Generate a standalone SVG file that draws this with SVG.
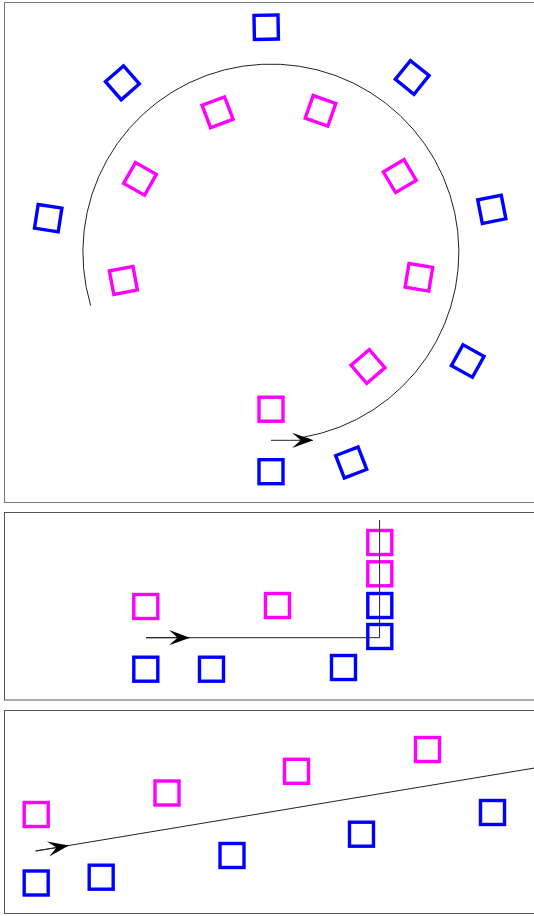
<svg xmlns="http://www.w3.org/2000/svg" width="534" height="916" viewBox="0 0 534 916">
<style>
  .frame { fill: none; stroke: #555; stroke-width: 1; }
  .frame1 { fill: none; stroke: #777; stroke-width: 1; }
  .b use { fill: none; stroke: #0000ff; stroke-width: 3.4; }
  .m use { fill: none; stroke: #ff00ff; stroke-width: 3.4; }
  .conn { fill: none; stroke: #222; stroke-width: 1; }
</style>
<defs>
  <marker id="arr" viewBox="-22 -9 24 18" refX="0" refY="0" markerWidth="24" markerHeight="18" markerUnits="userSpaceOnUse" orient="auto">
    <path d="M0.5,0 L-20.5,-7.6 L-12,0 L-20.5,7.6 Z" fill="#000"/>
  </marker>
  <rect id="sq" x="-12" y="-12" width="24" height="24"/>
</defs>
<rect width="534" height="916" fill="#fff"/>
<g id="frames">
  <rect class="frame1" x="4.5" y="2.5" width="540" height="500"/>
  <rect class="frame" x="4.5" y="512.5" width="540" height="187.5"/>
  <rect class="frame" x="4.5" y="710.5" width="540" height="203"/>
</g>
<!-- Panel 1: circular layout -->
<g id="p1-b1" class="b"><use href="#sq" transform="translate(467.7,361.0) rotate(28.9)"/></g>
<g id="p1-b2" class="b"><use href="#sq" transform="translate(351.2,462.5) rotate(68.9)"/></g>
<g id="p1-b3" class="b"><use href="#sq" transform="translate(48.2,218.2) rotate(188.9)"/></g>
<g id="p1-b4" class="b"><use href="#sq" transform="translate(122.4,82.8) rotate(228.9)"/></g>
<g id="p1-b5" class="b"><use href="#sq" transform="translate(266.2,27.2) rotate(268.9)"/></g>
<g id="p1-b6" class="b"><use href="#sq" transform="translate(412.2,77.4) rotate(308.9)"/></g>
<g id="p1-b7" class="b"><use href="#sq" transform="translate(491.8,209.3) rotate(348.9)"/></g>
<g id="p1-b8" class="b"><use href="#sq" transform="translate(271,471.7)"/></g>
<g id="p1-m1" class="m"><use href="#sq" transform="translate(418.9,277.3) rotate(9.4)"/></g>
<g id="p1-m2" class="m"><use href="#sq" transform="translate(368.0,366.5) rotate(49.4)"/></g>
<g id="p1-m3" class="m"><use href="#sq" transform="translate(123.4,280.4) rotate(169.4)"/></g>
<g id="p1-m4" class="m"><use href="#sq" transform="translate(140.0,178.9) rotate(209.4)"/></g>
<g id="p1-m5" class="m"><use href="#sq" transform="translate(217.6,112.3) rotate(249.4)"/></g>
<g id="p1-m6" class="m"><use href="#sq" transform="translate(320.5,110.8) rotate(289.4)"/></g>
<g id="p1-m7" class="m"><use href="#sq" transform="translate(399.8,176.1) rotate(329.4)"/></g>
<g id="p1-m8" class="m"><use href="#sq" transform="translate(271,409.2)"/></g>
<!-- Panel 2 -->
<g id="p2-m1" class="m"><use href="#sq" transform="translate(145.8,606.5)"/></g>
<g id="p2-m2" class="m"><use href="#sq" transform="translate(277.5,605.5)"/></g>
<g id="p2-m3" class="m"><use href="#sq" transform="translate(379.8,542.5)"/></g>
<g id="p2-m4" class="m"><use href="#sq" transform="translate(379.8,573.8)"/></g>
<g id="p2-b1" class="b"><use href="#sq" transform="translate(379.8,605.5)"/></g>
<g id="p2-b2" class="b"><use href="#sq" transform="translate(379.8,636.5)"/></g>
<g id="p2-b3" class="b"><use href="#sq" transform="translate(145.8,669.2)"/></g>
<g id="p2-b4" class="b"><use href="#sq" transform="translate(211.5,669.2)"/></g>
<g id="p2-b5" class="b"><use href="#sq" transform="translate(343.5,667.5)"/></g>
<!-- Panel 3 -->
<g id="p3-m1" class="m"><use href="#sq" transform="translate(36.2,814.5)"/></g>
<g id="p3-m2" class="m"><use href="#sq" transform="translate(167,793)"/></g>
<g id="p3-m3" class="m"><use href="#sq" transform="translate(296.5,771.3)"/></g>
<g id="p3-m4" class="m"><use href="#sq" transform="translate(427.5,749.5)"/></g>
<g id="p3-b1" class="b"><use href="#sq" transform="translate(36.2,883)"/></g>
<g id="p3-b2" class="b"><use href="#sq" transform="translate(101.2,877.2)"/></g>
<g id="p3-b3" class="b"><use href="#sq" transform="translate(232,855.5)"/></g>
<g id="p3-b4" class="b"><use href="#sq" transform="translate(361.5,834.2)"/></g>
<g id="p3-b5" class="b"><use href="#sq" transform="translate(492.5,812.5)"/></g>
<g id="connectors">
  <path class="conn" d="M90.7,305.7 A188,188 0 1 1 303,437.3 L311,439.6"/>
  <line class="conn" x1="271" y1="440.3" x2="312.7" y2="440.3" marker-end="url(#arr)"/>
  <path class="conn" d="M146,637.7 H379.6 V520"/>
  <line class="conn" x1="146" y1="637.7" x2="189.5" y2="637.7" marker-end="url(#arr)"/>
  <line class="conn" x1="35.7" y1="851" x2="540" y2="767.1"/>
  <line class="conn" x1="35.7" y1="851" x2="68.3" y2="845.6" marker-end="url(#arr)"/>
</g>
</svg>
